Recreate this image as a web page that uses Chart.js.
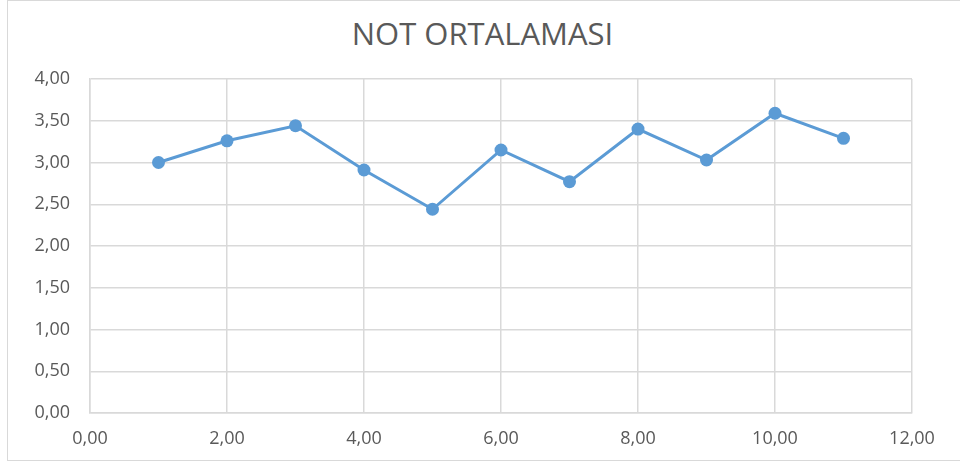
<!DOCTYPE html>
<html>
<head>
<meta charset="utf-8">
<script src="https://cdn.jsdelivr.net/npm/chart.js@4"></script>
<style>
  html, body { margin: 0; padding: 0; background: #fff; }
  #wrap { position: relative; width: 960px; height: 466px; overflow: hidden; }
  #frame { position: absolute; left: 7px; top: 0; width: 970px; height: 461px; border: 1px solid #d9d9d9; box-sizing: border-box; }
  #title { position: absolute; left: 0; top: 18px; width: 965px; text-align: center; font: 31px 'Open Sans', sans-serif; line-height: 31px; color: #595959; }
  canvas { position: absolute; left: 0; top: 0; }
</style>
</head>
<body>
<div id="wrap">
  <div id="frame"></div>
  <div id="title"></div>
  <canvas id="avgChart" width="960" height="466"></canvas>
</div>
<script>
const chartTitle = 'NOT ORTALAMASI';
const xValues = [1, 2, 3, 4, 5, 6, 7, 8, 9, 10, 11];
const yValues = [3.00, 3.26, 3.44, 2.91, 2.44, 3.15, 2.77, 3.40, 3.03, 3.59, 3.29];
const xTickLabels = ['0,00', '2,00', '4,00', '6,00', '8,00', '10,00', '12,00'];
const yTickLabels = ['0,00', '0,50', '1,00', '1,50', '2,00', '2,50', '3,00', '3,50', '4,00'];

const gridColor = '#d9d9d9';
const textColor = '#595959';
const font = "'Open Sans', sans-serif";

document.getElementById('title').textContent = chartTitle;

const ctx = document.getElementById('avgChart').getContext('2d');
new Chart(ctx, {
  type: 'scatter',
  data: {
    datasets: [{
      data: xValues.map((x, i) => ({ x: x, y: yValues[i] })),
      showLine: true,
      borderColor: '#5b9bd5',
      backgroundColor: '#5b9bd5',
      borderWidth: 3,
      pointRadius: 6.5,
      pointHoverRadius: 6.5,
      pointBorderWidth: 0,
      tension: 0
    }]
  },
  options: {
    responsive: false,
    animation: false,
    layout: { padding: { left: 0, right: 48, top: 79, bottom: 0 } },
    plugins: {
      legend: { display: false },
      tooltip: { enabled: false },
      title: { display: false }
    },
    scales: {
      x: {
        type: 'linear',
        min: 0,
        max: 12,
        afterFit: s => { s.height = 53; },
        grid: { color: gridColor, lineWidth: 1.5, drawTicks: false },
        border: { color: gridColor, width: 1.5 },
        ticks: {
          stepSize: 2,
          padding: 15,
          color: textColor,
          font: { family: font, size: 18 },
          maxRotation: 0,
          callback: (v, i) => xTickLabels[i]
        }
      },
      y: {
        min: 0,
        max: 4,
        afterFit: s => { s.width = 90; },
        grid: { color: gridColor, lineWidth: 1.5, drawTicks: false },
        border: { color: gridColor, width: 1.5 },
        ticks: {
          stepSize: 0.5,
          padding: 20,
          color: textColor,
          font: { family: font, size: 18 },
          callback: (v, i) => yTickLabels[i]
        }
      }
    }
  }
});
</script>
</body>
</html>
